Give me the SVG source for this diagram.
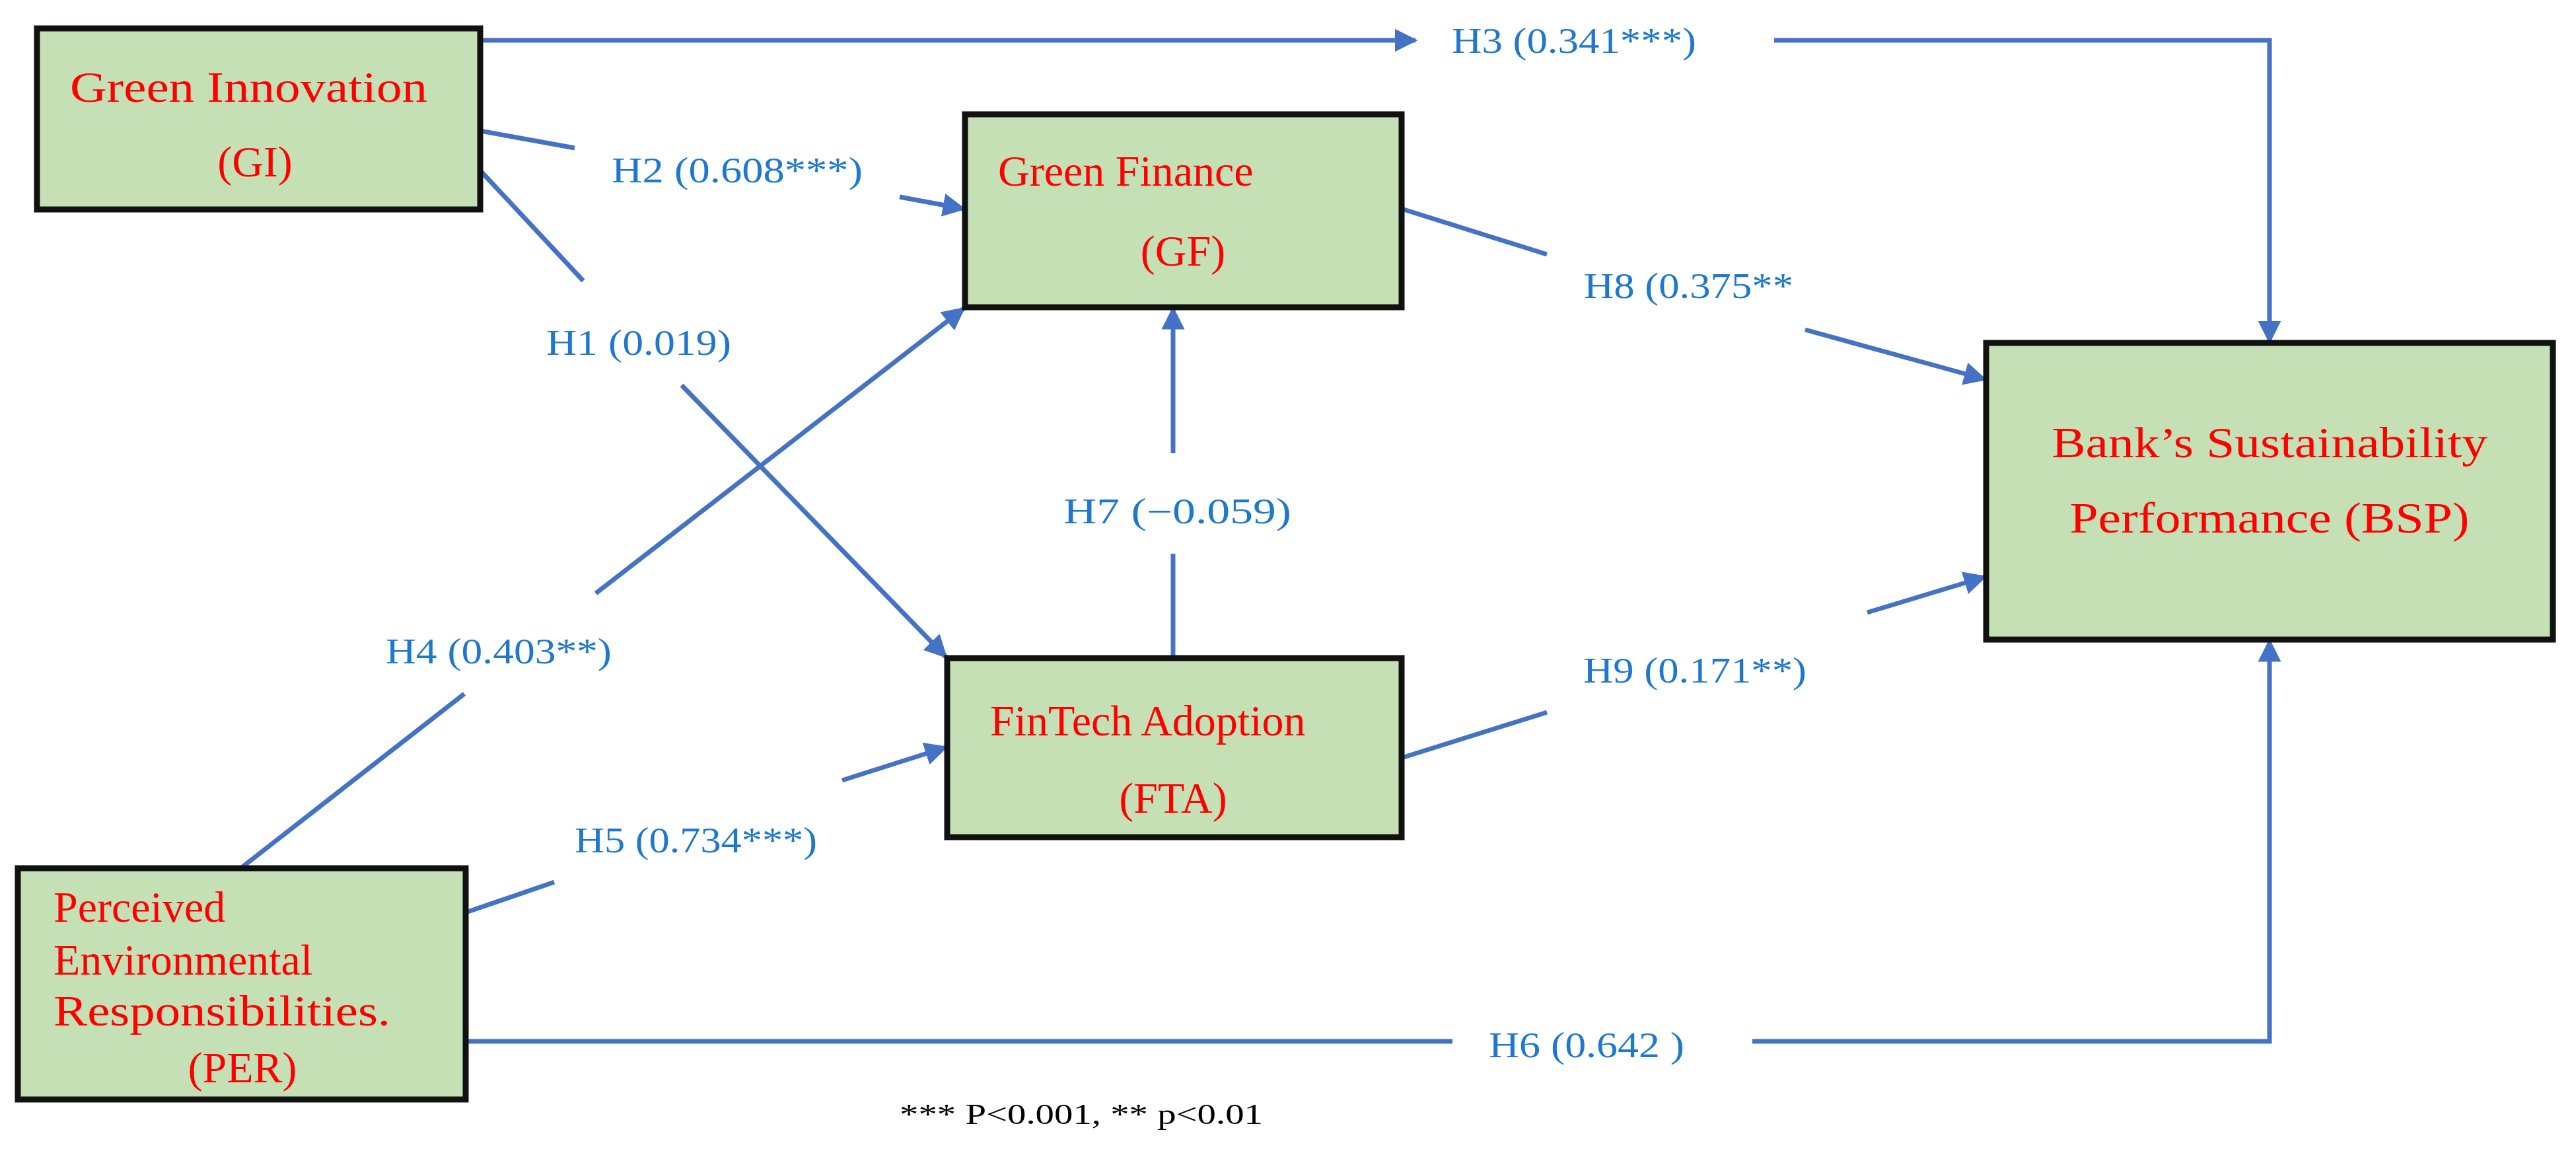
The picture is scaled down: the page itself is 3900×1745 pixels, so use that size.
<svg xmlns="http://www.w3.org/2000/svg" width="3900" height="1745" viewBox="0 0 3900 1745">
<defs>
<marker id="ah" viewBox="0 0 10 10" refX="9" refY="5" markerWidth="5" markerHeight="5" orient="auto" markerUnits="strokeWidth"><path d="M0,0 L10,5 L0,10 z" fill="#4472c4"/></marker>
</defs>
<style>
.box{fill:#c5e0b4;stroke:#111;stroke-width:9}
.nt{font-family:"Liberation Serif",serif;font-size:66px;fill:#ff0000}
.lb{font-family:"Liberation Serif",serif;font-size:54px;fill:#1f78cf}
.ln{stroke:#4472c4;stroke-width:7;fill:none}
.ar{stroke:#4472c4;stroke-width:7;fill:none;marker-end:url(#ah)}
.fn{font-family:"Liberation Serif",serif;font-size:44px;fill:#000}
</style>
<rect width="3900" height="1745" fill="#fff"/>
<g id="connectors">
<polyline class="ar" points="727,61 2143,61"/>
<polyline class="ar" points="2686,61 3436,61 3436,517"/>
<line class="ln" x1="727" y1="198" x2="870" y2="224"/>
<line class="ar" x1="1362" y1="298" x2="1459" y2="316"/>
<line class="ln" x1="727" y1="258" x2="883" y2="425"/>
<line class="ar" x1="1032" y1="583" x2="1432" y2="994"/>
<line class="ln" x1="367" y1="1312" x2="703" y2="1050"/>
<line class="ar" x1="902" y1="898" x2="1459" y2="467"/>
<line class="ln" x1="705" y1="1381" x2="839" y2="1335"/>
<line class="ar" x1="1275" y1="1181" x2="1432" y2="1131"/>
<line class="ln" x1="705" y1="1576" x2="2199" y2="1576"/>
<polyline class="ar" points="2653,1576 3436,1576 3436,970"/>
<line class="ln" x1="1776" y1="996" x2="1776" y2="838"/>
<line class="ar" x1="1776" y1="686" x2="1776" y2="467"/>
<line class="ln" x1="2122" y1="316" x2="2342" y2="385"/>
<line class="ar" x1="2733" y1="499" x2="3005" y2="574"/>
<line class="ln" x1="2122" y1="1147" x2="2342" y2="1078"/>
<line class="ar" x1="2827" y1="927" x2="3005" y2="873"/>
<text class="lb" x="2198" y="80" textLength="370" lengthAdjust="spacingAndGlyphs">H3 (0.341***)</text>
<text class="lb" x="926" y="276" textLength="380" lengthAdjust="spacingAndGlyphs">H2 (0.608***)</text>
<text class="lb" x="827" y="537" textLength="280" lengthAdjust="spacingAndGlyphs">H1 (0.019)</text>
<text class="lb" x="584" y="1004" textLength="342" lengthAdjust="spacingAndGlyphs">H4 (0.403**)</text>
<text class="lb" x="870" y="1290" textLength="367" lengthAdjust="spacingAndGlyphs">H5 (0.734***)</text>
<text class="lb" x="2254" y="1600" textLength="296" lengthAdjust="spacingAndGlyphs">H6 (0.642 )</text>
<text class="lb" x="1610" y="792" textLength="345" lengthAdjust="spacingAndGlyphs">H7 (−0.059)</text>
<text class="lb" x="2398" y="451" textLength="317" lengthAdjust="spacingAndGlyphs">H8 (0.375**</text>
<text class="lb" x="2397" y="1033" textLength="338" lengthAdjust="spacingAndGlyphs">H9 (0.171**)</text>
</g>
<g id="GI">
<rect class="box" x="56" y="43" width="671" height="274"/>
<text class="nt" x="106" y="154" textLength="541" lengthAdjust="spacingAndGlyphs">Green Innovation</text>
<text class="nt" x="386" y="267" text-anchor="middle">(GI)</text>
</g>
<g id="GF">
<rect class="box" x="1461" y="173" width="661" height="292"/>
<text class="nt" x="1511" y="281">Green Finance</text>
<text class="nt" x="1791" y="402" text-anchor="middle">(GF)</text>
</g>
<g id="FTA">
<rect class="box" x="1434" y="996" width="688" height="271"/>
<text class="nt" x="1499" y="1113">FinTech Adoption</text>
<text class="nt" x="1776" y="1230" text-anchor="middle">(FTA)</text>
</g>
<g id="BSP">
<rect class="box" x="3007" y="519" width="858" height="449"/>
<text class="nt" x="3436" y="692" text-anchor="middle" textLength="660" lengthAdjust="spacingAndGlyphs">Bank’s Sustainability</text>
<text class="nt" x="3436" y="806" text-anchor="middle" textLength="605" lengthAdjust="spacingAndGlyphs">Performance (BSP)</text>
</g>
<g id="PER">
<rect class="box" x="27" y="1314" width="678" height="350"/>
<text class="nt" x="81" y="1395">Perceived</text>
<text class="nt" x="81" y="1475">Environmental</text>
<text class="nt" x="81" y="1552" textLength="510" lengthAdjust="spacingAndGlyphs">Responsibilities.</text>
<text class="nt" x="367" y="1638" text-anchor="middle">(PER)</text>
</g>
<text class="fn" x="1362" y="1701" textLength="550" lengthAdjust="spacingAndGlyphs">*** P&lt;0.001, ** p&lt;0.01</text>
</svg>
